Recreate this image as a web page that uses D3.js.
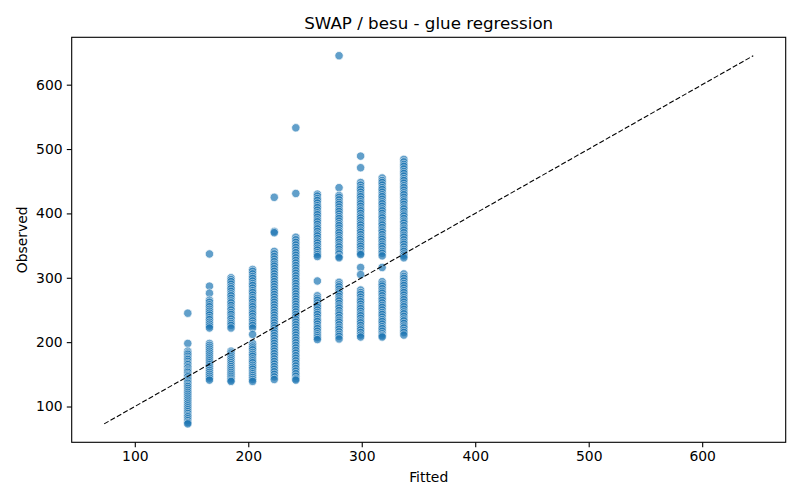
<!DOCTYPE html>
<html>
<head>
<meta charset="utf-8">
<script src="https://cdn.jsdelivr.net/npm/d3@7"></script>
<style>
  html, body { margin: 0; padding: 0; background: #fff; }
  text { font-family: "DejaVu Sans", sans-serif; }
</style>
</head>
<body>
<svg id="chart" width="800" height="500"></svg>
<script>
const title = "SWAP / besu - glue regression";
const xLabel = "Fitted";
const yLabel = "Observed";
const xTicks = [100, 200, 300, 400, 500, 600];
const yTicks = [100, 200, 300, 400, 500, 600];

// Fitted levels (one per column of points)
const fittedLevels = [146.7, 165.8, 184.8, 203.8, 222.9, 241.9, 260.9, 280.0, 299.0, 318.0, 337.1];

// Observed values read per fitted level
const observed0 = [245, 198, 186, 183, 181, 178, 175, 173, 170, 167, 165, 162, 160, 157, 155, 153, 150, 148, 146, 143, 141, 138, 136, 133, 131, 128, 125, 122, 119, 116, 113, 110, 107, 104, 101, 98, 95, 92, 89, 86, 84, 81, 78, 75, 73];
const observed1 = [337, 287, 276, 265, 262, 258, 255, 251, 248, 245, 242, 238, 235, 231, 228, 225, 222, 198, 195, 192, 189, 186, 183, 180, 177, 174, 171, 168, 165, 162, 159, 156, 153, 150, 147, 144, 141];
const observed2 = [300, 297, 294, 290, 286, 283, 279, 275, 272, 268, 264, 261, 257, 253, 250, 246, 243, 239, 236, 232, 229, 226, 222, 186, 183, 180, 177, 174, 171, 168, 165, 162, 159, 156, 153, 150, 147, 144, 141, 139];
const observed3 = [313, 310, 306, 302, 299, 295, 291, 288, 284, 280, 277, 273, 269, 266, 262, 258, 255, 251, 247, 244, 240, 236, 233, 229, 226, 222, 212, 198, 194, 191, 188, 184, 181, 178, 174, 171, 168, 164, 161, 158, 154, 151, 148, 145, 142, 139];
const observed4 = [425, 372, 370, 341, 337, 333, 329, 325, 321, 318, 314, 310, 306, 302, 298, 294, 290, 286, 282, 278, 274, 270, 266, 262, 258, 254, 250, 246, 242, 238, 234, 230, 226, 222, 218, 214, 210, 206, 202, 198, 194, 190, 186, 182, 178, 174, 170, 166, 162, 158, 154, 150, 146, 142];
const observed5 = [533, 431, 363, 359, 355, 351, 347, 343, 339, 335, 331, 327, 323, 319, 315, 311, 307, 303, 299, 295, 291, 287, 283, 279, 275, 271, 267, 263, 259, 255, 251, 247, 243, 239, 235, 231, 227, 223, 219, 215, 211, 207, 203, 199, 195, 191, 187, 183, 179, 175, 171, 167, 163, 159, 155, 151, 147, 143, 141];
const observed6 = [430, 427, 423, 420, 416, 412, 409, 405, 401, 398, 394, 390, 387, 383, 379, 376, 372, 368, 365, 361, 357, 354, 350, 346, 343, 339, 336, 333, 295, 272, 268, 265, 261, 257, 254, 250, 246, 243, 239, 235, 232, 228, 224, 221, 217, 213, 210, 207, 204];
const observed7 = [645, 440, 428, 425, 421, 417, 414, 410, 406, 403, 399, 395, 392, 388, 384, 381, 377, 373, 370, 366, 362, 359, 355, 351, 348, 344, 340, 337, 333, 331, 293, 289, 286, 282, 278, 275, 271, 267, 264, 260, 256, 253, 249, 245, 242, 238, 234, 231, 227, 223, 220, 216, 212, 209, 205];
const observed8 = [489, 471, 448, 444, 440, 437, 433, 429, 426, 422, 418, 415, 411, 407, 404, 400, 396, 393, 389, 385, 382, 378, 374, 371, 367, 363, 360, 356, 352, 349, 345, 341, 338, 336, 316, 305, 281, 277, 274, 270, 266, 263, 259, 255, 252, 248, 244, 241, 237, 233, 230, 226, 222, 219, 215, 211, 208];
const observed9 = [455, 451, 448, 444, 440, 437, 433, 429, 426, 422, 418, 415, 411, 407, 404, 400, 396, 393, 389, 385, 382, 378, 374, 371, 367, 363, 360, 356, 352, 349, 345, 341, 338, 334, 316, 294, 290, 287, 283, 279, 276, 272, 268, 265, 261, 257, 254, 250, 246, 243, 239, 235, 232, 228, 224, 221, 217, 213, 210, 208];
const observed10 = [484, 480, 476, 473, 469, 465, 462, 458, 454, 451, 447, 443, 440, 436, 432, 429, 425, 421, 418, 414, 410, 407, 403, 399, 396, 392, 388, 385, 381, 377, 374, 370, 366, 363, 359, 355, 352, 348, 344, 341, 337, 334, 331, 306, 302, 299, 295, 291, 288, 284, 280, 277, 273, 269, 266, 262, 258, 255, 251, 247, 244, 240, 236, 233, 229, 225, 222, 218, 215, 211];

const observedGroups = [observed0, observed1, observed2, observed3, observed4, observed5, observed6, observed7, observed8, observed9, observed10];

const points = [];
fittedLevels.forEach((f, i) => observedGroups[i].forEach(o => points.push({ fitted: f, observed: o })));

const svg = d3.select("#chart");
const margin = { left: 71.7, right: 785.7, top: 37.3, bottom: 442.3 };

const allVals = points.flatMap(d => [d.fitted, d.observed]);
const lo = d3.min(allVals), hi = d3.max(allVals);
const pad = (hi - lo) * 0.05;

const x = d3.scaleLinear().domain([lo - pad, hi + pad]).range([margin.left, margin.right]);
const y = d3.scaleLinear().domain([lo - pad, hi + pad]).range([margin.bottom, margin.top]);

// points
svg.append("g")
  .selectAll("circle")
  .data(points)
  .join("circle")
  .attr("cx", d => x(d.fitted))
  .attr("cy", d => y(d.observed))
  .attr("r", 4.2)
  .attr("fill", "#1f77b4")
  .attr("stroke", "#ffffff")
  .attr("stroke-width", 0.75)
  .attr("opacity", 0.7);

// identity line
svg.append("line")
  .attr("x1", x(lo)).attr("y1", y(lo))
  .attr("x2", x(hi)).attr("y2", y(hi))
  .attr("stroke", "#000")
  .attr("stroke-width", 1.1)
  .attr("stroke-dasharray", "5.1,2.2");

// axes
const xAxis = svg.append("g")
  .attr("transform", `translate(0,${margin.bottom})`)
  .call(d3.axisBottom(x).tickValues(xTicks).tickFormat(d3.format("d")).tickSize(4.9).tickPadding(4.2));
const yAxis = svg.append("g")
  .attr("transform", `translate(${margin.left},0)`)
  .call(d3.axisLeft(y).tickValues(yTicks).tickFormat(d3.format("d")).tickSize(4.9).tickPadding(4.2));

[xAxis, yAxis].forEach(g => {
  g.select(".domain").remove();
  g.selectAll(".tick line").attr("stroke", "#000").attr("stroke-width", 1.1);
  g.selectAll(".tick text").attr("fill", "#000").style("font-size", "13.9px").style("font-family", "DejaVu Sans");
});

// frame
svg.append("rect")
  .attr("x", margin.left).attr("y", margin.top)
  .attr("width", margin.right - margin.left)
  .attr("height", margin.bottom - margin.top)
  .attr("fill", "none")
  .attr("stroke", "#000")
  .attr("stroke-width", 1.1);

// title & labels
svg.append("text")
  .attr("x", (margin.left + margin.right) / 2).attr("y", 29)
  .attr("text-anchor", "middle")
  .style("font-size", "16.7px")
  .text(title);

svg.append("text")
  .attr("x", (margin.left + margin.right) / 2).attr("y", 482)
  .attr("text-anchor", "middle")
  .style("font-size", "13.9px")
  .text(xLabel);

svg.append("text")
  .attr("transform", `translate(27,${(margin.top + margin.bottom) / 2}) rotate(-90)`)
  .attr("text-anchor", "middle")
  .style("font-size", "13.9px")
  .text(yLabel);
</script>
</body>
</html>
